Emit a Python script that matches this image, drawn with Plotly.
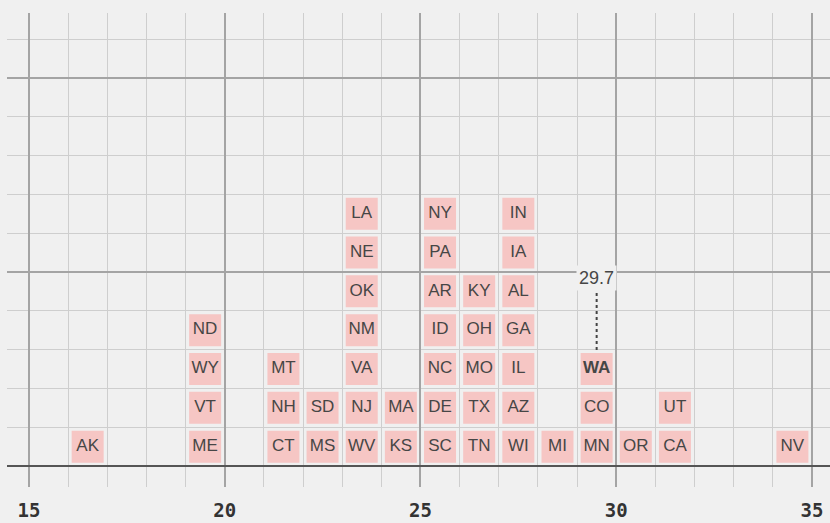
import plotly.graph_objects as go

# Bins (lower edge of each 1-unit column) and the states stacked in it, bottom to top
bins = [16, 19, 21, 22, 23, 24, 25, 26, 27, 28, 29, 30, 31, 34]
stacks = [
    ["AK"],
    ["ME", "VT", "WY", "ND"],
    ["CT", "NH", "MT"],
    ["MS", "SD"],
    ["WV", "NJ", "VA", "NM", "OK", "NE", "LA"],
    ["KS", "MA"],
    ["SC", "DE", "NC", "ID", "AR", "PA", "NY"],
    ["TN", "TX", "MO", "OH", "KY"],
    ["WI", "AZ", "IL", "GA", "AL", "IA", "IN"],
    ["MI"],
    ["MN", "CO", "WA"],
    ["OR"],
    ["CA", "UT"],
    ["NV"],
]
highlight_state = "WA"
highlight_value = 29.7
x_ticks = [15, 20, 25, 30, 35]

BG = "#f0f0f0"
PINK = "#f6c6c4"
TXT = "#464646"

xs, ys, labels = [], [], []
hx = hy = None
for b, col in zip(bins, stacks):
    for i, s in enumerate(col):
        xs.append(b + 0.5)
        ys.append(i + 0.5)
        if s == highlight_state:
            labels.append("<b>" + s + "</b>")
            hx, hy = b + 0.5, i + 0.5
        else:
            labels.append(s)

fig = go.Figure()
fig.add_trace(go.Scatter(
    x=xs, y=ys, mode="markers+text", text=labels,
    textposition="middle center",
    textfont=dict(family="Liberation Sans, Arial, sans-serif", size=17, color=TXT),
    marker=dict(symbol="square", size=32, color=PINK, line=dict(width=0)),
    hoverinfo="skip", showlegend=False, cliponaxis=False,
))

# dotted leader line from highlighted box to its value label
fig.add_trace(go.Scatter(
    x=[hx, hx], y=[hy + 0.49, hy + 1.98], mode="lines",
    line=dict(color="#444444", width=2, dash="dot"),
    hoverinfo="skip", showlegend=False,
))
fig.add_annotation(
    x=hx, y=hy + 2.34, text=f"{highlight_value}", showarrow=False,
    font=dict(family="Liberation Sans, Arial, sans-serif", size=18, color=TXT),
    bgcolor=BG, borderpad=2,
)

fig.update_layout(
    width=830, height=523,
    margin=dict(l=7, r=0, t=13, b=36),
    paper_bgcolor=BG, plot_bgcolor=BG,
    xaxis=dict(
        range=[14.44, 35.46], tickmode="array", tickvals=x_ticks,
        ticktext=[str(t) for t in x_ticks],
        tickfont=dict(family="DejaVu Sans Mono", size=19, color="#333333", weight="bold"),
        ticks="", ticklabelstandoff=10,
        showgrid=True, gridcolor="#a4a4a4", gridwidth=1.5,
        minor=dict(dtick=1, tick0=0, showgrid=True, gridcolor="#cecece", gridwidth=1.4),
        zeroline=False, showline=False, fixedrange=True,
    ),
    yaxis=dict(
        range=[-0.54, 11.67], tick0=0, dtick=5, showticklabels=False, ticks="",
        showgrid=True, gridcolor="#a4a4a4", gridwidth=1.5,
        minor=dict(dtick=1, tick0=0, showgrid=True, gridcolor="#cecece", gridwidth=1.4),
        zeroline=True, zerolinecolor="#555555", zerolinewidth=2,
        showline=False, fixedrange=True,
    ),
)

post = """
document.body.style.margin = '0';
document.body.style.background = '#f0f0f0';
"""
fig.write_html("out.html", config={"displayModeBar": False}, post_script=post)
